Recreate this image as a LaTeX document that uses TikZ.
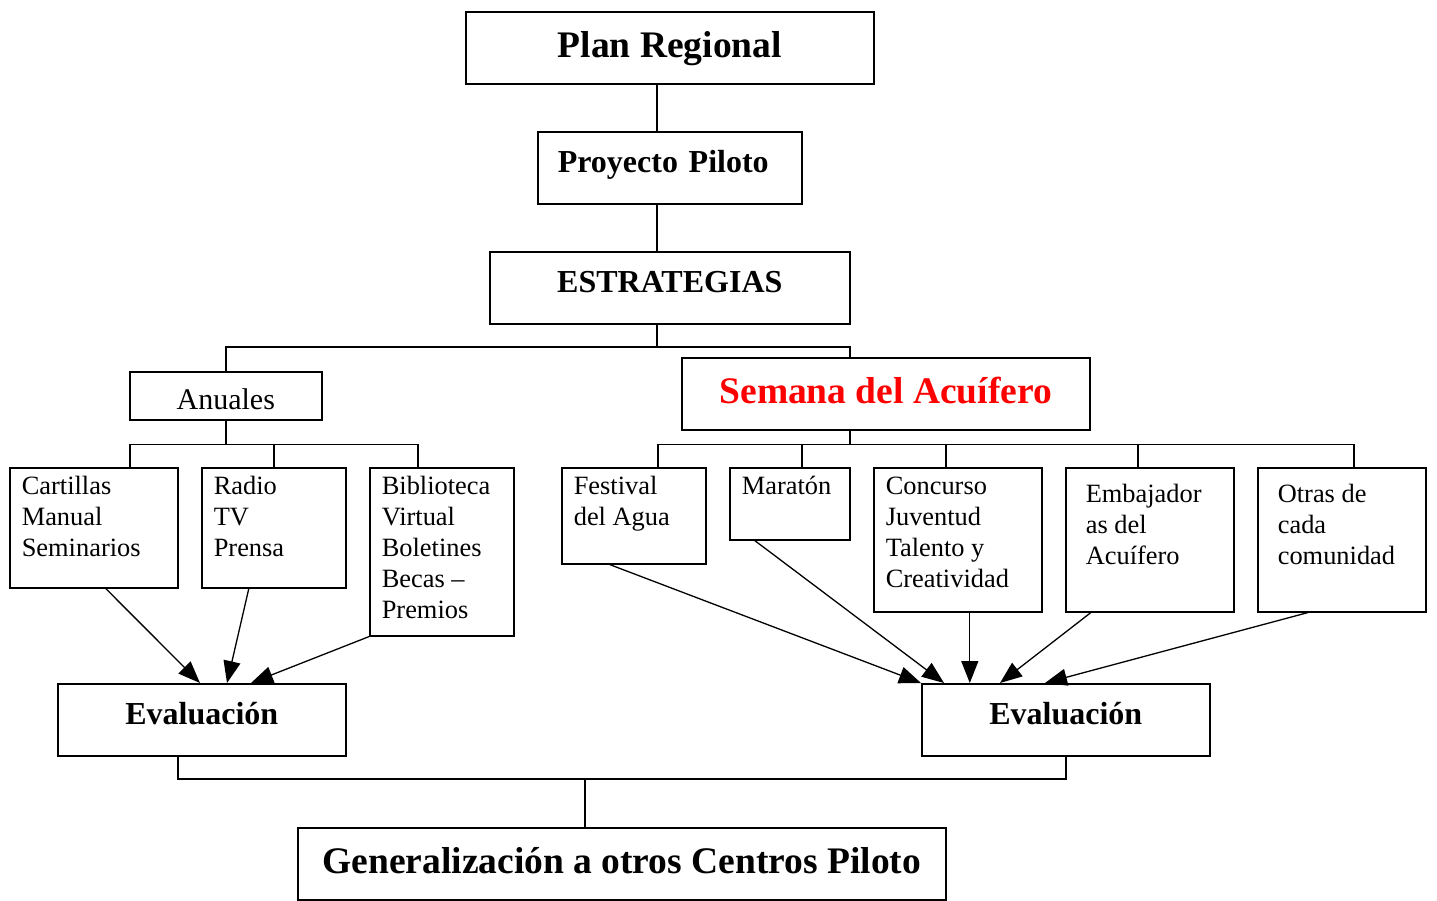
\documentclass[tikz,border=0pt]{standalone}
\usepackage{fontspec}
\setmainfont{Liberation Serif}
\usetikzlibrary{arrows.meta}
\definecolor{rojo}{RGB}{255, 0, 0}
% caja de texto alineada arriba: ancho, alto, primera linea, texto
\newcommand{\bloque}[4]{\parbox[t][#2][t]{#1}{\rule{0pt}{#3}#4}}

\begin{document}
\begin{tikzpicture}[
    x = 1pt, y = -1pt,
    caja/.style = {draw, line width = 1.6pt, anchor = north west, inner sep = 0pt},
    titulo/.style = {caja, font = \bfseries\fontsize{37.5}{45}\selectfont, text height = 46pt, text depth = 26pt},
    medio/.style = {caja, font = \bfseries\fontsize{32}{38}\selectfont, text height = 41pt, text depth = 31pt},
    lista/.style = {caja, inner xsep = 12pt, font = \fontsize{26.4}{31}\selectfont},
    linea/.style = {line width = 1.6pt},
    flecha/.style = {-{Triangle[length = 22pt, width = 17pt]}, line width = 1.3pt},
]

\useasboundingbox (0, 0) rectangle (1437, 900);

\node[titulo, minimum width = 408pt] (plan) at (465, 11) {Plan Regional};
\node[medio, text width = 224pt, inner xsep = 20pt, align = left] (proyecto) at (537, 131) {Proyecto Piloto};
\node[medio, minimum width = 360pt] (estr) at (489, 251) {ESTRATEGIAS};

\node[caja, minimum width = 192pt, font = \fontsize{30}{36}\selectfont, text height = 38pt, text depth = 10pt] (anuales) at (129, 371) {Anuales};
\node[titulo, minimum width = 408pt, text = rojo] (semana) at (681, 357) {Semana del Acuífero};

% anuales
\node[lista] (cartillas) at (9, 467) {\bloque{144pt}{120pt}{27pt}{Cartillas\\Manual\\Seminarios}};
\node[lista] (radio) at (201, 467) {\bloque{120pt}{120pt}{27pt}{Radio\\TV\\Prensa}};
\node[lista] (biblio) at (369, 467) {\bloque{120pt}{168pt}{27pt}{Biblioteca\\Virtual\\Boletines\\Becas \textendash\\Premios}};

% semana
\node[lista] (festival) at (561, 467) {\bloque{120pt}{96pt}{27pt}{Festival\\del Agua}};
\node[lista] (maraton) at (729, 467) {\bloque{96pt}{72pt}{27pt}{Maratón}};
\node[lista] (concurso) at (873, 467) {\bloque{144pt}{144pt}{27pt}{Concurso\\Juventud\\Talento y\\Creatividad}};
\node[lista, inner xsep = 20pt] (embajador) at (1065, 467) {\bloque{128pt}{144pt}{35pt}{Embajador\\as del\\Acuífero}};
\node[lista, inner xsep = 20pt] (otras) at (1257, 467) {\bloque{128pt}{144pt}{35pt}{Otras de\\cada\\comunidad}};

\node[medio, minimum width = 288pt] (evalI) at (57, 683) {Evaluación};
\node[medio, minimum width = 288pt] (evalD) at (921, 683) {Evaluación};
\node[titulo, minimum width = 648pt] (gen) at (297, 827) {Generalización a otros Centros Piloto};

\coordinate (eje) at (657, 347);
\coordinate (barE) at (585, 779);

% tronco
\draw[linea] (plan.south -| eje) -- (proyecto.north -| eje);
\draw[linea] (proyecto.south -| eje) -- (estr.north -| eje);
\draw[linea] (estr.south -| eje) -- (eje);
\draw[linea] (anuales.north) |- (eje) -| ([xshift = -36pt]semana.north);

% ramas
\draw[linea] (anuales.south) -- ++(0, 24) coordinate (barA);
\draw[linea] ([xshift = 36pt]cartillas.north) |- (barA) -| ([xshift = -24pt]biblio.north);
\draw[linea] (radio.north) -- (radio.north |- barA);

\draw[linea] ([xshift = -36pt]semana.south) -- ++(0, 14) coordinate (barS);
\draw[linea] ([xshift = 24pt]festival.north) |- (barS) -| ([xshift = 12pt]otras.north);
\draw[linea] ([xshift = 12pt]maraton.north) -- ([xshift = 12pt]maraton.north |- barS);
\draw[linea] ([xshift = -12pt]concurso.north) -- ([xshift = -12pt]concurso.north |- barS);
\draw[linea] ([xshift = -12pt]embajador.north) -- ([xshift = -12pt]embajador.north |- barS);

% flechas
\draw[flecha] ([xshift = 12pt]cartillas.south) -- ([xshift = 143pt]evalI.north west);
\draw[flecha] ([xshift = -25pt]radio.south) -- ([xshift = 170pt]evalI.north west);
\draw[flecha] (biblio.south west) -- ([xshift = 194pt]evalI.north west);

\draw[flecha] ([xshift = -24pt]festival.south) -- (evalD.north west);
\draw[flecha] ([xshift = -35pt]maraton.south) -- ([xshift = 23pt]evalD.north west);
\draw[flecha] ([xshift = 12pt]concurso.south) -- ([xshift = 12pt]concurso.south |- evalD.north);
\draw[flecha] ([xshift = -59pt]embajador.south) -- ([xshift = 79pt]evalD.north west);
\draw[flecha] ([xshift = -34pt]otras.south) -- ([xshift = 124pt]evalD.north west);

% cierre
\draw[linea] ([xshift = -24pt]evalI.south) |- (barE) -| (evalD.south);
\draw[linea] (barE) -- (gen.north -| barE);

\end{tikzpicture}
\end{document}
